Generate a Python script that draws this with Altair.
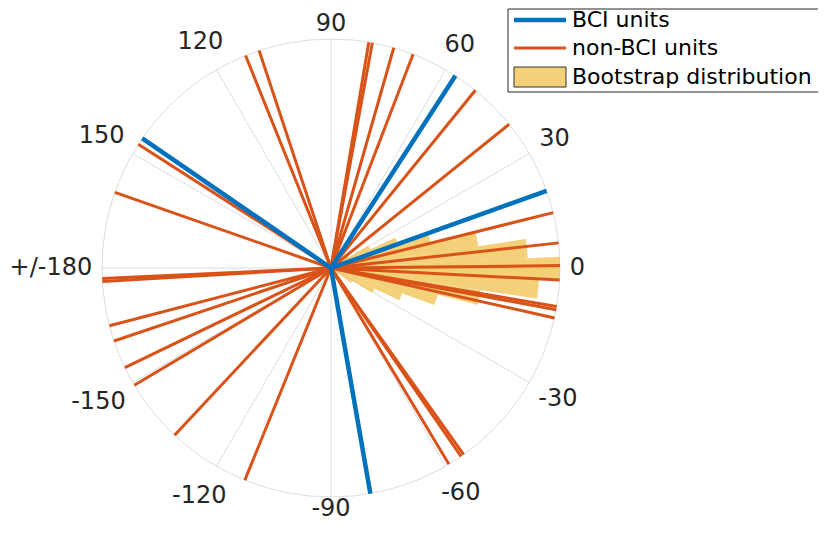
import math
import pandas as pd
import altair as alt

# ---------------- data ----------------
bci_angles = [57.1, 19.7, -80.1, 145.5]
nonbci_angles = [79.6, 80.5, 74.1, 69.0, 50.9, 38.9, 14.0, 6.3, 0.6, -3.0,
                 -9.7, -10.5, -12.6, -54.6, -55.4, -59.0, -112.1, -133.1,
                 -149.2, -154.2, -161.4, -165.4, -176.6, -177.4, 160.7,
                 147.3, 111.9, 108.3]
hist_centers = [-39.375, -33.75, -28.125, -22.5, -16.875, -11.25, -5.625, 0.0,
                5.625, 11.25, 16.875, 22.5, 28.125, 33.75, 39.375]
hist_values = [0.04, 0.11, 0.21, 0.33, 0.48, 0.66, 0.91, 1.0,
               0.86, 0.65, 0.45, 0.31, 0.19, 0.09, 0.04]
hist_bin_width = 5.625
tick_angles = [0, 30, 60, 90, 120, 150, 180, -150, -120, -90, -60, -30]
tick_labels = ["0", "30", "60", "90", "120", "150", "+/-180", "-150", "-120",
               "-90", "-60", "-30"]
legend_labels = ["BCI units", "non-BCI units", "Bootstrap distribution"]

# ---------------- style ----------------
R = 229
BLUE = "#0072BD"
ORANGE = "#D95319"
YELLOW = "#EDB120"
GRID = "#DCDCDC"
TEXT = "#262626"
FONT = "DejaVu Sans"
TICK_FS = 24
LEG_FS = 22

xs = alt.Scale(domain=[-1, 1], range=[0, 2 * R], nice=False, zero=False)
ys = alt.Scale(domain=[-1, 1], range=[2 * R, 0], nice=False, zero=False)
theta_scale = alt.Scale(domain=[90, -270], range=[0, 2 * math.pi], nice=False, zero=False)
r_scale = alt.Scale(type="linear", domain=[0, 1], range=[0, R], nice=False)


def spokes(angles):
    rad = [math.radians(a) for a in angles]
    return pd.DataFrame({
        "angle": angles,
        "x0": [0.0] * len(angles),
        "y0": [0.0] * len(angles),
        "x1": [math.cos(a) for a in rad],
        "y1": [math.sin(a) for a in rad],
    })


def rule_layer(df, color, width):
    return alt.Chart(df).mark_rule(color=color, strokeWidth=width, strokeCap="butt").encode(
        x=alt.X("x0:Q", scale=xs, axis=None),
        y=alt.Y("y0:Q", scale=ys, axis=None),
        x2="x1:Q",
        y2="y1:Q",
    )


grid_df = spokes([0, 30, 60, 90, 120, 150, 180, 210, 240, 270, 300, 330])
grid = rule_layer(grid_df, GRID, 1)

circle = alt.Chart(pd.DataFrame({"a": [0]})).mark_arc(
    filled=False, stroke=GRID, strokeWidth=1
).encode(
    theta=alt.value(0), theta2=alt.value(2 * math.pi), radius=alt.value(R)
)

hist_df = pd.DataFrame({
    "t1": [c - hist_bin_width / 2 for c in hist_centers],
    "t2": [c + hist_bin_width / 2 for c in hist_centers],
    "r": hist_values,
})
hist = alt.Chart(hist_df).mark_arc(color=YELLOW, opacity=0.6).encode(
    theta=alt.Theta("t1:Q", scale=theta_scale, stack=False),
    theta2="t2:Q",
    radius=alt.Radius("r:Q", scale=r_scale),
)

nonbci = rule_layer(spokes(nonbci_angles), ORANGE, 3)
bci = rule_layer(spokes(bci_angles), BLUE, 4.5)

# tick labels: centre placed outside the circle by the half-extent of the text
CHAR_W = {"+": 0.838, "/": 0.337, "-": 0.361}
rows = []
for a, t in zip(tick_angles, tick_labels):
    c, s = math.cos(math.radians(a)), math.sin(math.radians(a))
    w = sum(CHAR_W.get(ch, 0.636) for ch in t) * TICK_FS - 0.1 * TICK_FS
    h = 1.0 * TICK_FS
    rc = R + 11 + abs(c) * w / 2 + abs(s) * h / 2
    if a == 90:
        rc = 244
    elif a == -90:
        rc = 241
    rows.append({"label": t, "lx": rc * c / R, "ly": rc * s / R})
lab_df = pd.DataFrame(rows)
labels = alt.Chart(lab_df).mark_text(align="center", baseline="middle", font=FONT,
                                     fontSize=TICK_FS, color=TEXT).encode(
    x=alt.X("lx:Q", scale=xs, axis=None),
    y=alt.Y("ly:Q", scale=ys, axis=None),
    text="label:N",
)

# legend (pixel positions relative to plot area)
one = pd.DataFrame({"a": [0]})
leg_box = alt.Chart(one).mark_rect(fill="white", stroke=TEXT, strokeWidth=1).encode(
    x=alt.value(406), x2=alt.value(720), y=alt.value(-30), y2=alt.value(53)
)
leg_blue = alt.Chart(one).mark_rule(color=BLUE, strokeWidth=4.5).encode(
    x=alt.value(412), x2=alt.value(464), y=alt.value(-19), y2=alt.value(-19)
)
leg_orange = alt.Chart(one).mark_rule(color=ORANGE, strokeWidth=3).encode(
    x=alt.value(412), x2=alt.value(464), y=alt.value(9), y2=alt.value(9)
)
leg_patch = alt.Chart(one).mark_rect(fill=YELLOW, fillOpacity=0.6, stroke="#333333",
                                     strokeWidth=1).encode(
    x=alt.value(412), x2=alt.value(464), y=alt.value(28), y2=alt.value(48)
)
leg_text_df = pd.DataFrame({"label": legend_labels, "py": [-19, 9, 38]})
leg_text = alt.Chart(leg_text_df).mark_text(align="left", baseline="middle", font=FONT,
                                            fontSize=LEG_FS, color="black").encode(
    x=alt.value(470),
    y=alt.Y("py:Q", scale=None),
    text="label:N",
)

chart = alt.layer(
    grid, circle, hist, nonbci, bci, labels,
    leg_box, leg_blue, leg_orange, leg_patch, leg_text,
).properties(
    width=2 * R, height=2 * R,
    padding={"left": 94, "top": 31, "right": 258, "bottom": 28},
    autosize=alt.AutoSizeParams(type="none"),
).configure_view(stroke=None)

chart.save("out.html", embed_options={"renderer": "svg", "actions": False})
